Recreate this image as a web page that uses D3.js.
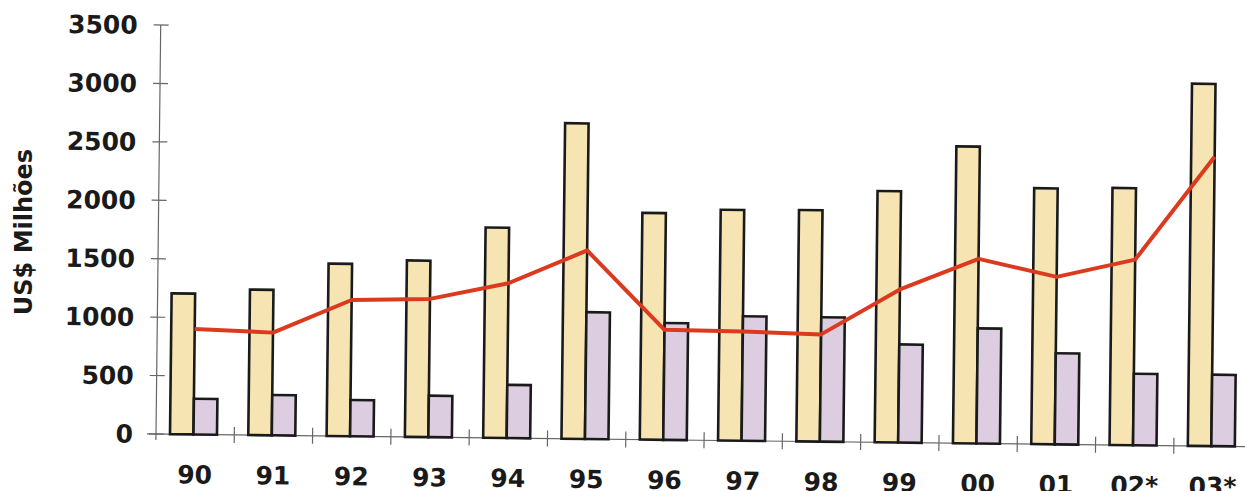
<!DOCTYPE html>
<html>
<head>
<meta charset="utf-8">
<script src="https://cdn.jsdelivr.net/npm/d3@7"></script>
<style>
  html, body { margin: 0; padding: 0; background: #ffffff; }
  svg { display: block; }
</style>
</head>
<body>
<svg id="chart" width="1245" height="491"></svg>
<script>
// Years on the category axis
const years = ["90", "91", "92", "93", "94", "95", "96", "97", "98", "99", "00", "01", "02*", "03*"];
// Tall bars (yellow), US$ millions
const seriesA = [1205, 1245, 1475, 1510, 1800, 2700, 1940, 1975, 1980, 2150, 2540, 2190, 2200, 3100];
// Short bars (lilac), US$ millions
const seriesB = [305, 345, 310, 355, 455, 1085, 1000, 1065, 1065, 840, 985, 780, 612, 612];
// Red line, US$ millions
const seriesLine = [903, 879, 1166, 1183, 1325, 1613, 942, 935, 918, 1310, 1580, 1433, 1589, 2477];
// Value-axis ticks
const yTicks = [0, 500, 1000, 1500, 2000, 2500, 3000, 3500];
const yTitle = "US$ Milhões";

const svg = d3.select("#chart");
const originX = 156, originY = 434;

// Whole plot is drawn slightly tilted, pivoting on the axis origin
const g = svg.append("g").attr("transform", `rotate(0.66, ${originX}, ${originY})`);

const x0 = d3.scaleBand().domain(years).range([originX, originX + 14 * 78.3]).paddingInner(0).paddingOuter(0);
const x1 = d3.scaleBand().domain(["a", "b"]).range([14, 61]).padding(0);
const y = d3.scaleLinear().domain([0, 3500]).range([originY, 25]);

const font = "'DejaVu Sans', Verdana, sans-serif";

// y axis: line plus crossing ticks
g.append("line")
  .attr("x1", originX).attr("x2", originX)
  .attr("y1", y(3500)).attr("y2", originY + 6)
  .attr("stroke", "#666").attr("stroke-width", 1.2);
g.selectAll(".ytick").data(yTicks).join("line")
  .attr("class", "ytick")
  .attr("x1", originX - 7).attr("x2", originX + 8)
  .attr("y1", d => y(d)).attr("y2", d => y(d))
  .attr("stroke", "#666").attr("stroke-width", 1.2);
g.selectAll(".ylab").data(yTicks).join("text")
  .attr("class", "ylab")
  .attr("x", 133).attr("y", d => y(d)).attr("dy", "0.36em")
  .attr("text-anchor", "end")
  .attr("font-family", font).attr("font-weight", "bold").attr("font-size", 25)
  .attr("fill", "#1a1a1a")
  .text(d => d);

// x axis: line plus ticks at band boundaries
g.append("line")
  .attr("x1", originX - 9).attr("x2", x0.range()[1])
  .attr("y1", originY).attr("y2", originY)
  .attr("stroke", "#666").attr("stroke-width", 1.2);
g.selectAll(".xtick").data(years.slice(1)).join("line")
  .attr("class", "xtick")
  .attr("x1", d => x0(d)).attr("x2", d => x0(d))
  .attr("y1", originY - 8).attr("y2", originY + 8)
  .attr("stroke", "#666").attr("stroke-width", 1.2);
g.selectAll(".xlab").data(years).join("text")
  .attr("class", "xlab")
  .attr("x", d => x0(d) + x0.bandwidth() / 2)
  .attr("y", originY + 49)
  .attr("text-anchor", "middle")
  .attr("font-family", font).attr("font-weight", "bold").attr("font-size", 25)
  .attr("fill", "#1a1a1a")
  .text(d => d);

// Bars
const barStroke = "#1a1a1a";
g.selectAll(".barA").data(years).join("rect")
  .attr("class", "barA")
  .attr("x", d => x0(d) + x1("a"))
  .attr("width", x1.bandwidth())
  .attr("y", (d, i) => y(seriesA[i]))
  .attr("height", (d, i) => y(0) - y(seriesA[i]))
  .attr("fill", "#f6e5b2").attr("stroke", barStroke).attr("stroke-width", 2.6);
g.selectAll(".barB").data(years).join("rect")
  .attr("class", "barB")
  .attr("x", d => x0(d) + x1("b"))
  .attr("width", x1.bandwidth())
  .attr("y", (d, i) => y(seriesB[i]))
  .attr("height", (d, i) => y(0) - y(seriesB[i]))
  .attr("fill", "#dccde0").attr("stroke", barStroke).attr("stroke-width", 2.6);

// Line through the bar pairs
const line = d3.line()
  .x((d, i) => x0(years[i]) + x1("b"))
  .y(d => y(d));
g.append("path")
  .datum(seriesLine)
  .attr("d", line)
  .attr("fill", "none")
  .attr("stroke", "#dc3a1f").attr("stroke-width", 4)
  .attr("stroke-linejoin", "round");

// Value-axis title
svg.append("text")
  .attr("transform", "translate(32, 232) rotate(-90)")
  .attr("text-anchor", "middle")
  .attr("font-family", font).attr("font-weight", "bold").attr("font-size", 24)
  .attr("fill", "#1a1a1a")
  .text(yTitle);
</script>
</body>
</html>
